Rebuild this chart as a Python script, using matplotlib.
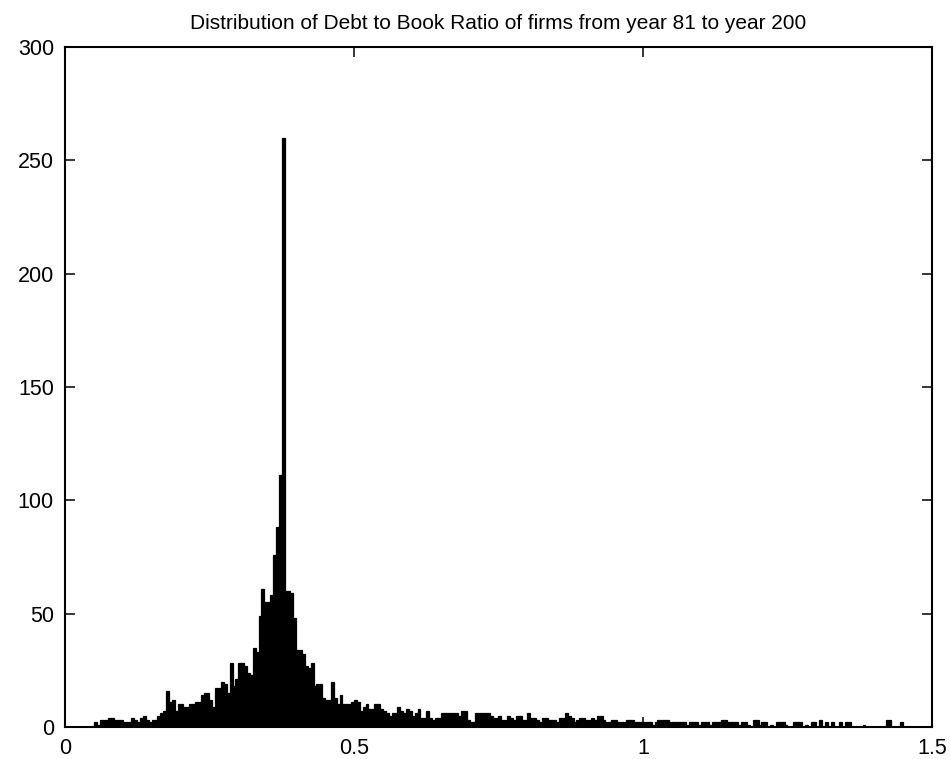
import numpy as np
import matplotlib
matplotlib.use('Agg')
import matplotlib.pyplot as plt

plt.rcParams['font.family'] = ['Liberation Sans', 'DejaVu Sans']

title = 'Distribution of Debt to Book Ratio of firms from year 81 to year 200'

# histogram of debt/book ratio, bins of 0.005 starting at 0
bin_start = 0.0
bin_width = 0.005
counts = [
    0, 0, 0, 0, 0, 0, 0, 0, 0, 0,
    2, 1, 3, 3, 3, 4, 4, 3, 3, 3,
    2, 2, 2, 4, 3, 2, 4, 5, 3, 2,
    3, 3, 5, 6, 7, 16, 11, 12, 7, 10,
    10, 9, 9, 10, 10, 11, 11, 14, 15, 15,
    12, 9, 17, 17, 20, 19, 15, 28, 18, 21,
    28, 28, 27, 24, 23, 35, 33, 49, 61, 55,
    55, 58, 76, 88, 111, 260, 60, 60, 59, 48,
    34, 34, 32, 27, 26, 28, 18, 19, 19, 13,
    12, 12, 20, 13, 10, 14, 10, 10, 10, 11,
    12, 11, 7, 9, 10, 8, 8, 10, 10, 8,
    7, 6, 5, 6, 6, 9, 7, 6, 8, 7,
    5, 6, 8, 4, 4, 7, 4, 3, 4, 4,
    6, 6, 6, 6, 6, 6, 5, 7, 7, 3,
    2, 2, 6, 6, 6, 6, 6, 5, 4, 4,
    5, 3, 3, 5, 4, 3, 5, 5, 3, 3,
    6, 4, 4, 3, 2, 4, 4, 3, 3, 3,
    2, 4, 4, 6, 5, 4, 2, 3, 4, 4,
    3, 3, 4, 3, 5, 5, 3, 2, 2, 3,
    3, 2, 2, 2, 3, 3, 3, 2, 2, 2,
    2, 2, 2, 1, 2, 3, 3, 3, 3, 2,
    2, 2, 2, 2, 2, 1, 2, 2, 2, 1,
    2, 2, 2, 1, 2, 2, 2, 3, 3, 2,
    2, 2, 2, 1, 2, 2, 1, 0, 3, 3,
    1, 2, 2, 0, 1, 0, 2, 2, 2, 1,
    0, 0, 2, 2, 2, 0, 1, 0, 2, 2,
    0, 3, 0, 2, 0, 2, 0, 0, 2, 0,
    2, 2, 0, 0, 0, 0, 1, 0, 0, 0,
    0, 0, 0, 0, 3, 3, 0, 0, 0, 2,
    0, 0, 0, 0, 0, 0, 0, 0, 0, 0,
]

x_ticks = [0, 0.5, 1, 1.5]
x_tick_labels = ['0', '0.5', '1', '1.5']
y_ticks = [0, 50, 100, 150, 200, 250, 300]

edges = bin_start + bin_width * np.arange(len(counts))

fig = plt.figure(figsize=(9.5, 7.59), dpi=100)
ax = fig.add_axes([0.0684, 0.0422, 0.9126, 0.896])

ax.bar(edges, counts, width=bin_width, align='edge',
       color='k', edgecolor='k', linewidth=0.9)

ax.set_xlim(0, 1.5)
ax.set_ylim(0, 300)
ax.set_xticks(x_ticks)
ax.set_xticklabels(x_tick_labels)
ax.set_yticks(y_ticks)
ax.tick_params(direction='in', top=True, right=True, length=7, width=1.1,
               labelsize=15.5, pad=8)
for s in ax.spines.values():
    s.set_linewidth(1.5)

ax.set_title(title, fontsize=15, pad=13)

plt.savefig('out.png', dpi=100)
